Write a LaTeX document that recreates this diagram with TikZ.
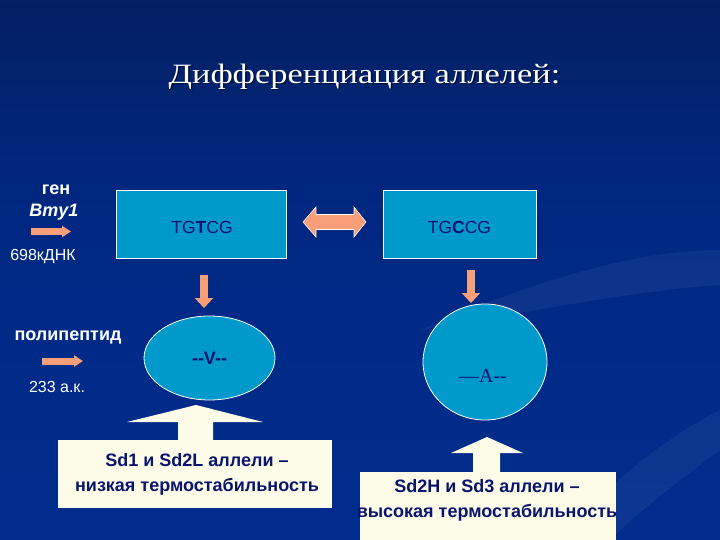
\documentclass[tikz,border=0pt]{standalone}
\usepackage{fontspec}
\setmainfont{Liberation Sans}
\newfontfamily\titlefont{Liberation Serif}
\usetikzlibrary{arrows.meta,shapes.geometric}
\definecolor{bgtop}{RGB}{8,20,60}
\definecolor{bgmid}{RGB}{0,40,130}
\definecolor{bgbot}{RGB}{0,50,150}
\definecolor{boxblue}{RGB}{0,153,204}
\definecolor{navy}{RGB}{10,20,110}
\definecolor{salmon}{RGB}{248,158,120}
\definecolor{cream}{RGB}{252,252,232}
\pgfdeclareverticalshading{slidebg}{100bp}{color(0bp)=(bgbot); color(55bp)=(bgmid); color(100bp)=(bgtop)}
\begin{document}
\begin{tikzpicture}[x=1pt,y=-1pt,
  lblb/.style={text=white,font=\fontsize{18}{20}\selectfont\bfseries},
  lblr/.style={text=white,font=\fontsize{16}{18}\selectfont},
  gbox/.style={draw=white,line width=0.8pt,fill=boxblue,minimum height=68pt,inner sep=0pt,text=navy,font=\fontsize{17.5}{19}\selectfont},
  oval/.style={ellipse,draw=white,line width=0.8pt,fill=boxblue,inner sep=0pt,text=navy},
  callbox/.style={fill=cream,inner sep=0pt},
  calltext/.style={text=navy,align=center,font=\fontsize{18}{25}\selectfont\bfseries},
  blockarr/.style={draw=salmon,line width=#1},
]
\useasboundingbox (0,0) rectangle (720,540);
\shade[shading=slidebg] (0,0) rectangle (720,540);
% faint swooshes
\fill[white,opacity=0.05] (420,330) .. controls (560,270) and (650,250) .. (720,250) -- (720,285) .. controls (640,290) and (540,310) .. (420,330) -- cycle;
\fill[white,opacity=0.05] (560,540) .. controls (620,470) and (680,430) .. (720,410) -- (720,450) .. controls (680,480) and (640,510) .. (610,540) -- cycle;

\node[text=black,opacity=0.5,font=\titlefont\fontsize{28}{32}\selectfont] at (366,78) {\scalebox{1.23}[1]{Дифференциация аллелей:}};
\node[text=white,font=\titlefont\fontsize{28}{32}\selectfont] (title) at (364.5,76.5) {\scalebox{1.23}[1]{Дифференциация аллелей:}};

\node[lblb] (gen) at (56,190) {ген};
\node[lblb,font=\fontsize{18}{20}\selectfont\bfseries\itshape] (bmy) at (54,212) {Bmy1};
\node[lblr] (dnk) at (43,257) {698кДНК};
\node[lblb] (poly) at (68,337) {полипептид};
\node[lblr] (ak) at (57,387) {233 а.к.};

\coordinate (g1) at (31,231.5);
\coordinate (g2) at (71,231.5);
\coordinate (p1) at (42,361);
\coordinate (p2) at (83,361);
\draw[blockarr=7pt,-{Triangle[width=11pt,length=9pt]}] (g1) -- (g2);
\draw[blockarr=7pt,-{Triangle[width=11pt,length=9pt]}] (p1) -- (p2);

\node[gbox,minimum width=170pt] (b1) at (201.5,224.5) {};
\node[text=navy,font=\fontsize{17.5}{19}\selectfont] (b1t) at (202,227) {TG\textbf{T}CG};
\node[gbox,minimum width=153pt] (b2) at (459.5,224.5) {};
\node[text=navy,font=\fontsize{17.5}{19}\selectfont] (b2t) at (459.5,227) {TG\textbf{C}CG};

\coordinate (d1) at (303,222);
\coordinate (d2) at (366,222);
\draw[fill=salmon,draw=white,line width=0.6pt,line join=miter] (d1) -- ++(13,-15) -- ++(0,7.5) -- ++(38,0) -- ++(0,-7.5) -- (d2) -- ++(-12,15) -- ++(0,-7.5) -- ++(-38,0) -- ++(0,7.5) -- cycle;

\node[oval,minimum width=131pt,minimum height=84pt,font=\fontsize{18}{20}\selectfont\bfseries] (v) at (209.5,358) {{-}{-}V{-}{-}};
\node[oval,minimum width=124pt,minimum height=116pt] (a) at (485,362) {};
\node[text=navy,font=\titlefont\fontsize{20}{22}\selectfont] (atext) at (483,376) {—A{-}{-}};

\coordinate (da1) at (204,275);
\coordinate (da2) at (204,308);
\coordinate (db1) at (471,270);
\coordinate (db2) at (471,303);
\draw[blockarr=8pt,-{Triangle[width=18pt,length=10pt]}] (da1) -- (da2);
\draw[blockarr=8pt,-{Triangle[width=18pt,length=10pt]}] (db1) -- (db2);

% callouts
\node[callbox,minimum width=274pt,minimum height=68pt] (c1) at (195,474) {};
\fill[cream] (178,441) -- (178,422) -- (127,422) -- (196,405) -- (263,422) -- (213,422) -- (213,441) -- cycle;
\node[calltext] (t1) at (197,474.5) {Sd1 и Sd2L аллели –\\низкая термостабильность};

\node[callbox,minimum width=256pt,minimum height=74pt] (c2) at (488,509) {};
\fill[cream] (473,473) -- (473,453) -- (451,453) -- (487,437) -- (523,453) -- (500,453) -- (500,473) -- cycle;
\node[calltext] (t2) at (487,500.5) {Sd2H и Sd3 аллели –\\высокая термостабильность};
\end{tikzpicture}
\end{document}
